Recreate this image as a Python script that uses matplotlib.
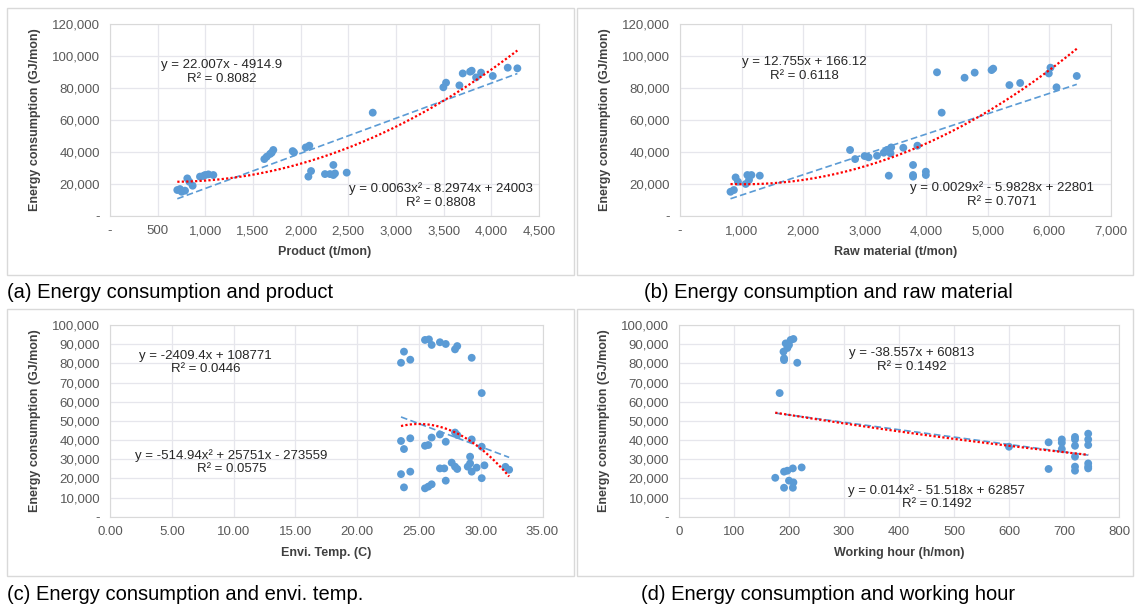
import matplotlib
matplotlib.use("Agg")
import matplotlib.pyplot as plt
from matplotlib.patches import Rectangle
from matplotlib.ticker import FuncFormatter, MultipleLocator
import numpy as np

plt.rcParams["font.family"] = ["Liberation Sans", "DejaVu Sans"]

W, H = 1136, 607

# (a) product vs energy
product_x = [706, 734, 752, 787, 811, 832, 867, 944, 979, 997, 1032, 1084,
             1619, 1644, 1679, 1696, 1713, 1916, 1930, 2053, 2091, 2081, 2109,
             2255, 2308, 2343, 2343, 2360, 2483, 2756, 3497, 3525, 3665, 3700,
             3777, 3794, 3840, 3892, 4015, 4172, 4273]
product_y = [16100, 16700, 15000, 15700, 23400, 21300, 18800, 24500, 24900,
             25500, 25900, 25500, 35500, 37000, 38700, 39500, 41200, 40500,
             39700, 42800, 43900, 24500, 28000, 26100, 26100, 31800, 25500,
             26500, 27000, 64600, 80500, 83400, 81700, 89200, 90300, 90900,
             86700, 89700, 87600, 92800, 92400]
product_lin = [22.007, -4914.9]
product_poly = [0.0063, -8.2974, 24003]

# (b) raw material vs energy
raw_x = [820, 875, 903, 941, 1067, 1094, 1121, 1160, 1296, 2762, 2844, 2998,
         3063, 3200, 3309, 3364, 3430, 3419, 3391, 3627, 3785, 3785, 3785,
         3856, 3993, 3993, 4174, 4250, 4622, 4786, 5060, 5087, 5350, 5525,
         5990, 6017, 6115, 6444]
raw_y = [15000, 16100, 24000, 21300, 19900, 25500, 22400, 25500, 25100, 41200,
         35500, 37400, 36600, 37600, 39500, 41200, 42800, 39100, 25100, 42600,
         31800, 25500, 24500, 43900, 27600, 25500, 89900, 64600, 86500, 89700,
         91300, 92200, 81900, 83200, 89200, 92800, 80500, 87600]
raw_lin = [12.755, 166.12]
raw_poly = [0.0029, -5.9828, 22801]

# (c) environment temperature vs energy
temp_x = [23.55, 23.79, 24.3, 25.49, 25.81, 26.03, 26.70, 27.17, 27.92, 28.1,
          29.27, 30.08, 23.55, 23.79, 24.3, 25.49, 25.76, 26.03, 26.70, 27.17,
          27.92, 28.1, 29.27, 30.08, 23.55, 24.3, 23.79, 25.49, 25.76, 26.03,
          26.70, 27.05, 27.17, 27.65, 27.92, 28.1, 28.95, 29.14, 29.14, 29.27,
          29.67, 30.08, 30.3, 32.0, 32.3]
temp_y = [80300, 86100, 81900, 92200, 92500, 89600, 91000, 90100, 87300, 89000,
          82900, 64500, 39500, 35300, 40900, 37000, 37400, 41300, 42900, 39100,
          43900, 42600, 40300, 36500, 22200, 23500, 15300, 14800, 15700, 16900,
          25200, 25200, 18800, 28200, 26100, 24900, 26100, 31300, 27800, 23500,
          25600, 20100, 26800, 26000, 24500]
temp_lin = [-2409.4, 108771]
temp_poly = [-514.94, 25751, -273559]

# (d) working hour vs energy
hour_x = [203, 208, 194, 200, 190, 197, 191, 191, 215, 183, 175, 191, 197, 207,
          223, 200, 191, 207, 208, 600, 672, 672, 696, 696, 696, 720, 720, 720,
          720, 720, 720, 744, 744, 744, 744, 744, 744]
hour_y = [92200, 92700, 90400, 89600, 86100, 88000, 82600, 81700, 80300, 64500,
          20300, 23500, 24000, 25200, 25700, 18800, 15100, 15100, 17900, 36500,
          38800, 24900, 40300, 38600, 35300, 41600, 40300, 37000, 31300, 26100,
          24000, 43300, 40300, 37400, 27800, 26100, 25200]
hour_lin = [-38.557, 60813]
hour_poly = [0.014, -51.518, 62857]

BLUE = "#5B9BD5"
GRID = "#e6e6ec"
TICK = "#595959"


def box(left, top, right, bottom):
    return [left / W, 1 - bottom / H, (right - left) / W, (bottom - top) / H]


def comma_fmt(v, pos):
    return "-" if abs(v) < 1e-9 else f"{v:,.0f}"


def draw_panel(ax, x, y, lin, poly, xmax, xstep, ymax, ystep, xfmt, xlabel,
               lin_text, lin_pos, poly_text, poly_pos):
    ax.scatter(x, y, s=32, color=BLUE, edgecolors="none", zorder=3)

    xs = np.linspace(min(x), max(x), 200)
    ax.plot(xs, np.polyval(lin, xs), color=BLUE, lw=1.2,
            linestyle=(0, (4, 2)), zorder=4)
    ax.plot(xs, np.polyval(poly, xs), color="red", lw=1.6,
            linestyle=(0, (1, 1)), zorder=4)

    ax.set_xlim(0, xmax)
    ax.set_ylim(0, ymax)
    ax.xaxis.set_major_locator(MultipleLocator(xstep))
    ax.yaxis.set_major_locator(MultipleLocator(ystep))
    ax.xaxis.set_major_formatter(FuncFormatter(xfmt))
    ax.yaxis.set_major_formatter(FuncFormatter(comma_fmt))
    ax.tick_params(length=0, labelsize=9.5, labelcolor=TICK, pad=7)
    ax.grid(True, color=GRID, lw=0.9)
    ax.set_axisbelow(True)
    for side in ax.spines.values():
        side.set_color("#d9d9d9")

    ax.set_xlabel(xlabel, fontsize=9, fontweight="bold", color="#404040",
                  labelpad=6)
    ax.set_ylabel("Energy consumption (GJ/mon)", fontsize=9,
                  fontweight="bold", color="#404040", labelpad=8)

    ax.text(lin_pos[0], lin_pos[1], lin_text, transform=ax.transAxes,
            ha="center", va="center", fontsize=9.5, color="#262626",
            linespacing=1.15)
    ax.text(poly_pos[0], poly_pos[1], poly_text, transform=ax.transAxes,
            ha="center", va="center", fontsize=9.5, color="#262626",
            linespacing=1.15)


fig = plt.figure(figsize=(W / 100, H / 100), dpi=100)

# panel frames
for l, t, r, b in [(7, 8, 574, 275), (577, 8, 1133, 275),
                   (7, 309, 574, 576), (577, 309, 1133, 576)]:
    fig.patches.append(Rectangle((l / W, 1 - b / H), (r - l) / W, (b - t) / H,
                                 transform=fig.transFigure, fill=False,
                                 edgecolor="#d9d9d9", lw=1))

ax_a = fig.add_axes(box(110, 24.3, 539, 215.7))
draw_panel(ax_a, product_x, product_y, product_lin, product_poly,
           4500, 500, 120000, 20000, comma_fmt, "Product (t/mon)",
           "y = 22.007x - 4914.9\nR² = 0.8082", (0.261, 0.751),
           "y = 0.0063x² - 8.2974x + 24003\nR² = 0.8808", (0.772, 0.105))

ax_b = fig.add_axes(box(680, 24.3, 1111, 215.7))
draw_panel(ax_b, raw_x, raw_y, raw_lin, raw_poly,
           7000, 1000, 120000, 20000, comma_fmt, "Raw material (t/mon)",
           "y = 12.755x + 166.12\nR² = 0.6118", (0.289, 0.766),
           "y = 0.0029x² - 5.9828x + 22801\nR² = 0.7071", (0.746, 0.11))

ax_c = fig.add_axes(box(110, 325, 542.5, 516.7))
draw_panel(ax_c, temp_x, temp_y, temp_lin, temp_poly,
           35, 5, 100000, 10000, lambda v, p: f"{v:.2f}", "Envi. Temp. (C)",
           "y = -2409.4x + 108771\nR² = 0.0446", (0.2215, 0.803),
           "y = -514.94x² + 25751x - 273559\nR² = 0.0575", (0.2805, 0.284))

ax_d = fig.add_axes(box(679, 325, 1119, 516.7))
draw_panel(ax_d, hour_x, hour_y, hour_lin, hour_poly,
           800, 100, 100000, 10000, lambda v, p: f"{v:.0f}",
           "Working hour (h/mon)",
           "y = -38.557x + 60813\nR² = 0.1492", (0.529, 0.817),
           "y = 0.014x² - 51.518x + 62857\nR² = 0.1492", (0.585, 0.104))

captions = [
    (7, 292, "(a) Energy consumption and product"),
    (644, 292, "(b) Energy consumption and raw material"),
    (7, 594, "(c) Energy consumption and envi. temp."),
    (641, 594, "(d) Energy consumption and working hour"),
]
for cx, cy, txt in captions:
    fig.text(cx / W, 1 - cy / H, txt, ha="left", va="center", fontsize=14.5,
             color="black")

fig.savefig("out.png", dpi=100)
